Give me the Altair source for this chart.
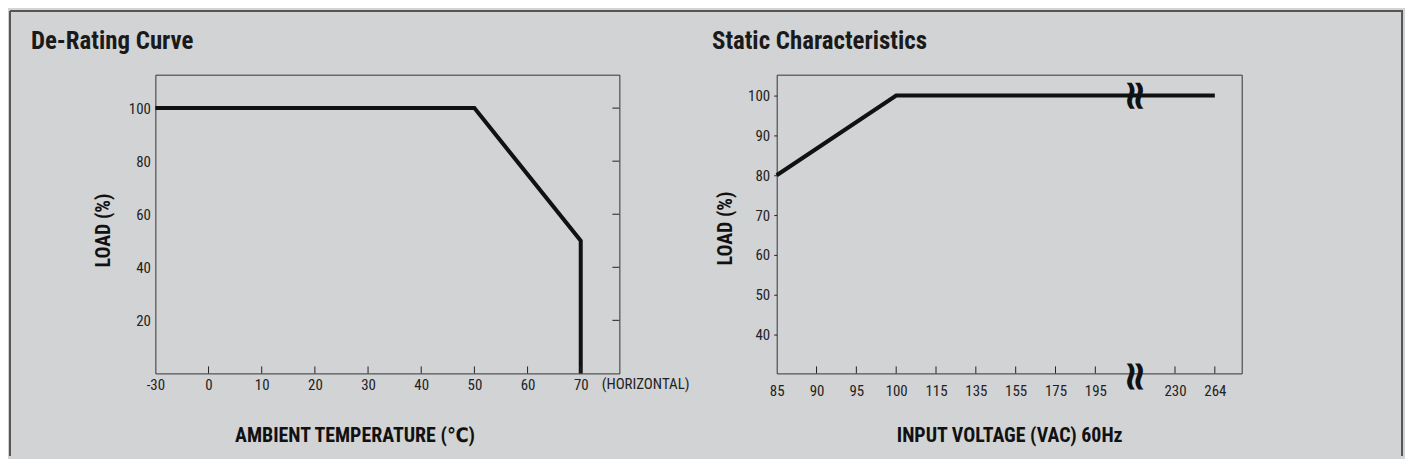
import altair as alt
import pandas as pd

# ---------------- data ----------------
# De-Rating Curve (evenly spaced category ticks on the x axis)
temp_ticks = [-30, 0, 10, 20, 30, 40, 50, 60, 70]
derate_temp = [-30, 50, 70, 70]
derate_load = [100, 100, 50, 0]
load_ticks_left = [20, 40, 60, 80, 100]

# Static Characteristics (evenly spaced ticks with an axis break after 195)
volt_ticks = [85, 90, 95, 100, 115, 135, 155, 175, 195, 230, 264]
break_after = 195
static_volt = [85, 100, 264]
static_load = [80, 100, 100]
load_ticks_right = [40, 50, 60, 70, 80, 90, 100]

# ---------------- helpers ----------------
BG = "#d2d3d5"
INK = "#111111"
NARROW = "Roboto Condensed, Noto Sans Condensed, Liberation Sans Narrow, Arial Narrow, DejaVu Sans Condensed, sans-serif"

temp_pos = {t: i for i, t in enumerate(temp_ticks)}
volt_pos = {v: (i if v <= break_after else i + 1) for i, v in enumerate(volt_ticks)}
break_pos = volt_pos[break_after] + 1

W1, W2, H = 466, 467, 300

df1 = pd.DataFrame({"pos": [temp_pos[t] for t in derate_temp], "load": derate_load,
                    "step": list(range(len(derate_temp)))})
df2 = pd.DataFrame({"pos": [volt_pos[v] for v in static_volt], "load": static_load,
                    "step": list(range(len(static_volt)))})

left_labels = "[" + ",".join("'%s'" % t for t in temp_ticks) + "][datum.value]"
right_arr = [""] * (max(volt_pos.values()) + 1)
for v, p in volt_pos.items():
    right_arr[p] = str(v)
right_labels = "[" + ",".join("'%s'" % s for s in right_arr) + "][datum.value]"

xs1 = alt.Scale(domain=[0, W1 / 53.4], nice=False, zero=False)
ys1 = alt.Scale(domain=[0, 112.6], nice=False, zero=False)
xs2 = alt.Scale(domain=[0, W2 / 40.0], nice=False, zero=False)
ys2 = alt.Scale(domain=[30.25, 105.25], nice=False, zero=False)

one = pd.DataFrame({"a": [0]})

lab = dict(labelFont=NARROW, labelFontSize=15, labelColor="#222222",
           titleFont=NARROW, titleFontSize=20, titleFontWeight="bold", titleColor=INK,
           grid=False, domain=False, labelFlush=False, labelOverlap=False, labelBound=False)

# ---------------- left panel ----------------
panel = alt.Chart(one).mark_rect(fill=BG, fillOpacity=0).encode(
    x=alt.value(-147), x2=alt.value(1254), y=alt.value(-65), y2=alt.value(383))
border_l = alt.Chart(one).mark_rule(color="#555555", strokeWidth=2).encode(
    x=alt.value(-146), y=alt.value(-64), y2=alt.value(383))
border_t = alt.Chart(one).mark_rule(color="#555555", strokeWidth=2).encode(
    x=alt.value(-146), x2=alt.value(1253), y=alt.value(-64))
border_r = alt.Chart(one).mark_rule(color="#555555", strokeWidth=2).encode(
    x=alt.value(1252), y=alt.value(-64), y2=alt.value(383))

title1 = alt.Chart(pd.DataFrame({"t": ["De-Rating Curve"]})).mark_text(
    align="left", baseline="alphabetic", font=NARROW, fontSize=25, fontWeight="bold", color="#1a1a1a"
).encode(x=alt.value(-125), y=alt.value(-25.5), text="t:N")

line1 = alt.Chart(df1).mark_line(color=INK, strokeWidth=4, strokeCap="butt", strokeJoin="miter").encode(
    x=alt.X("pos:Q", scale=xs1, axis=alt.Axis(
        values=list(range(len(temp_ticks))), labelExpr=left_labels, ticks=False, labelPadding=4,
        title="AMBIENT TEMPERATURE (℃)", titleX=200, titleY=68, titleAlign="center",
        titleBaseline="alphabetic", **lab)),
    y=alt.Y("load:Q", scale=ys1, axis=alt.Axis(
        values=load_ticks_left, ticks=False, labelPadding=5,
        title="LOAD (%)", titleX=-52, titleY=156, titleAngle=270, titleAlign="center",
        titleBaseline="middle", **lab)),
    order="step:O")

xt1 = alt.Chart(pd.DataFrame({"pos": list(range(1, len(temp_ticks)))})).mark_rule(
    color="#222222", strokeWidth=1).encode(
    x=alt.X("pos:Q", scale=xs1), y=alt.value(H), y2=alt.value(H - 7))
yt1 = alt.Chart(pd.DataFrame({"load": load_ticks_left})).mark_rule(
    color="#222222", strokeWidth=1).encode(
    y=alt.Y("load:Q", scale=ys1), x=alt.value(W1 - 7), x2=alt.value(W1))
horiz = alt.Chart(pd.DataFrame({"pos": [9.22], "t": ["(HORIZONTAL)"]})).mark_text(
    align="center", baseline="top", font=NARROW, fontSize=15, color="#222222").encode(
    x=alt.X("pos:Q", scale=xs1), y=alt.value(H + 4), text="t:N")

left = alt.layer(line1, panel, border_l, border_t, border_r, title1, xt1, yt1, horiz).properties(
    width=W1, height=H)

# ---------------- right panel ----------------
title2 = alt.Chart(pd.DataFrame({"t": ["Static Characteristics"]})).mark_text(
    align="left", baseline="alphabetic", font=NARROW, fontSize=25, fontWeight="bold", color="#1a1a1a"
).encode(x=alt.value(-65), y=alt.value(-25.5), text="t:N")

line2 = alt.Chart(df2).mark_line(color=INK, strokeWidth=4, strokeCap="butt", strokeJoin="miter").encode(
    x=alt.X("pos:Q", scale=xs2, axis=alt.Axis(
        values=sorted(volt_pos.values()), labelExpr=right_labels, ticks=False, labelPadding=10,
        title="INPUT VOLTAGE (VAC) 60Hz", titleX=W2 / 2, titleY=68, titleAlign="center",
        titleBaseline="alphabetic", **lab)),
    y=alt.Y("load:Q", scale=ys2, axis=alt.Axis(
        values=load_ticks_right, ticks=True, tickSize=3, tickColor="#222222", labelPadding=4,
        title="LOAD (%)", titleX=-51, titleY=154, titleAngle=270, titleAlign="center",
        titleBaseline="middle", **lab)),
    order="step:O")

xt2 = alt.Chart(pd.DataFrame({"pos": [p for p in sorted(volt_pos.values()) if p > 0]})).mark_rule(
    color="#222222", strokeWidth=1).encode(
    x=alt.X("pos:Q", scale=xs2), y=alt.value(H), y2=alt.value(H - 7))

brk = pd.DataFrame({"pos": [break_pos], "load": [100], "t": ["≈"]})
brk_top = alt.Chart(brk).mark_text(
    angle=90, align="center", baseline="middle", font="DejaVu Sans", fontSize=42,
    fontWeight="bold", color=INK).encode(
    x=alt.X("pos:Q", scale=xs2), y=alt.Y("load:Q", scale=ys2), text="t:N")
brk_bot = alt.Chart(brk).mark_text(
    angle=90, align="center", baseline="middle", font="DejaVu Sans", fontSize=42,
    fontWeight="bold", color=INK).encode(
    x=alt.X("pos:Q", scale=xs2), y=alt.value(H + 3), text="t:N")

right = alt.layer(line2, title2, xt2, brk_top, brk_bot).properties(width=W2, height=H)

chart = alt.hconcat(left, right, spacing=158, bounds="flush").configure(
    background=BG, padding=0
).configure_view(stroke="#333333", strokeWidth=1)

chart.save("out.html", embed_options={"renderer": "svg", "actions": False})
